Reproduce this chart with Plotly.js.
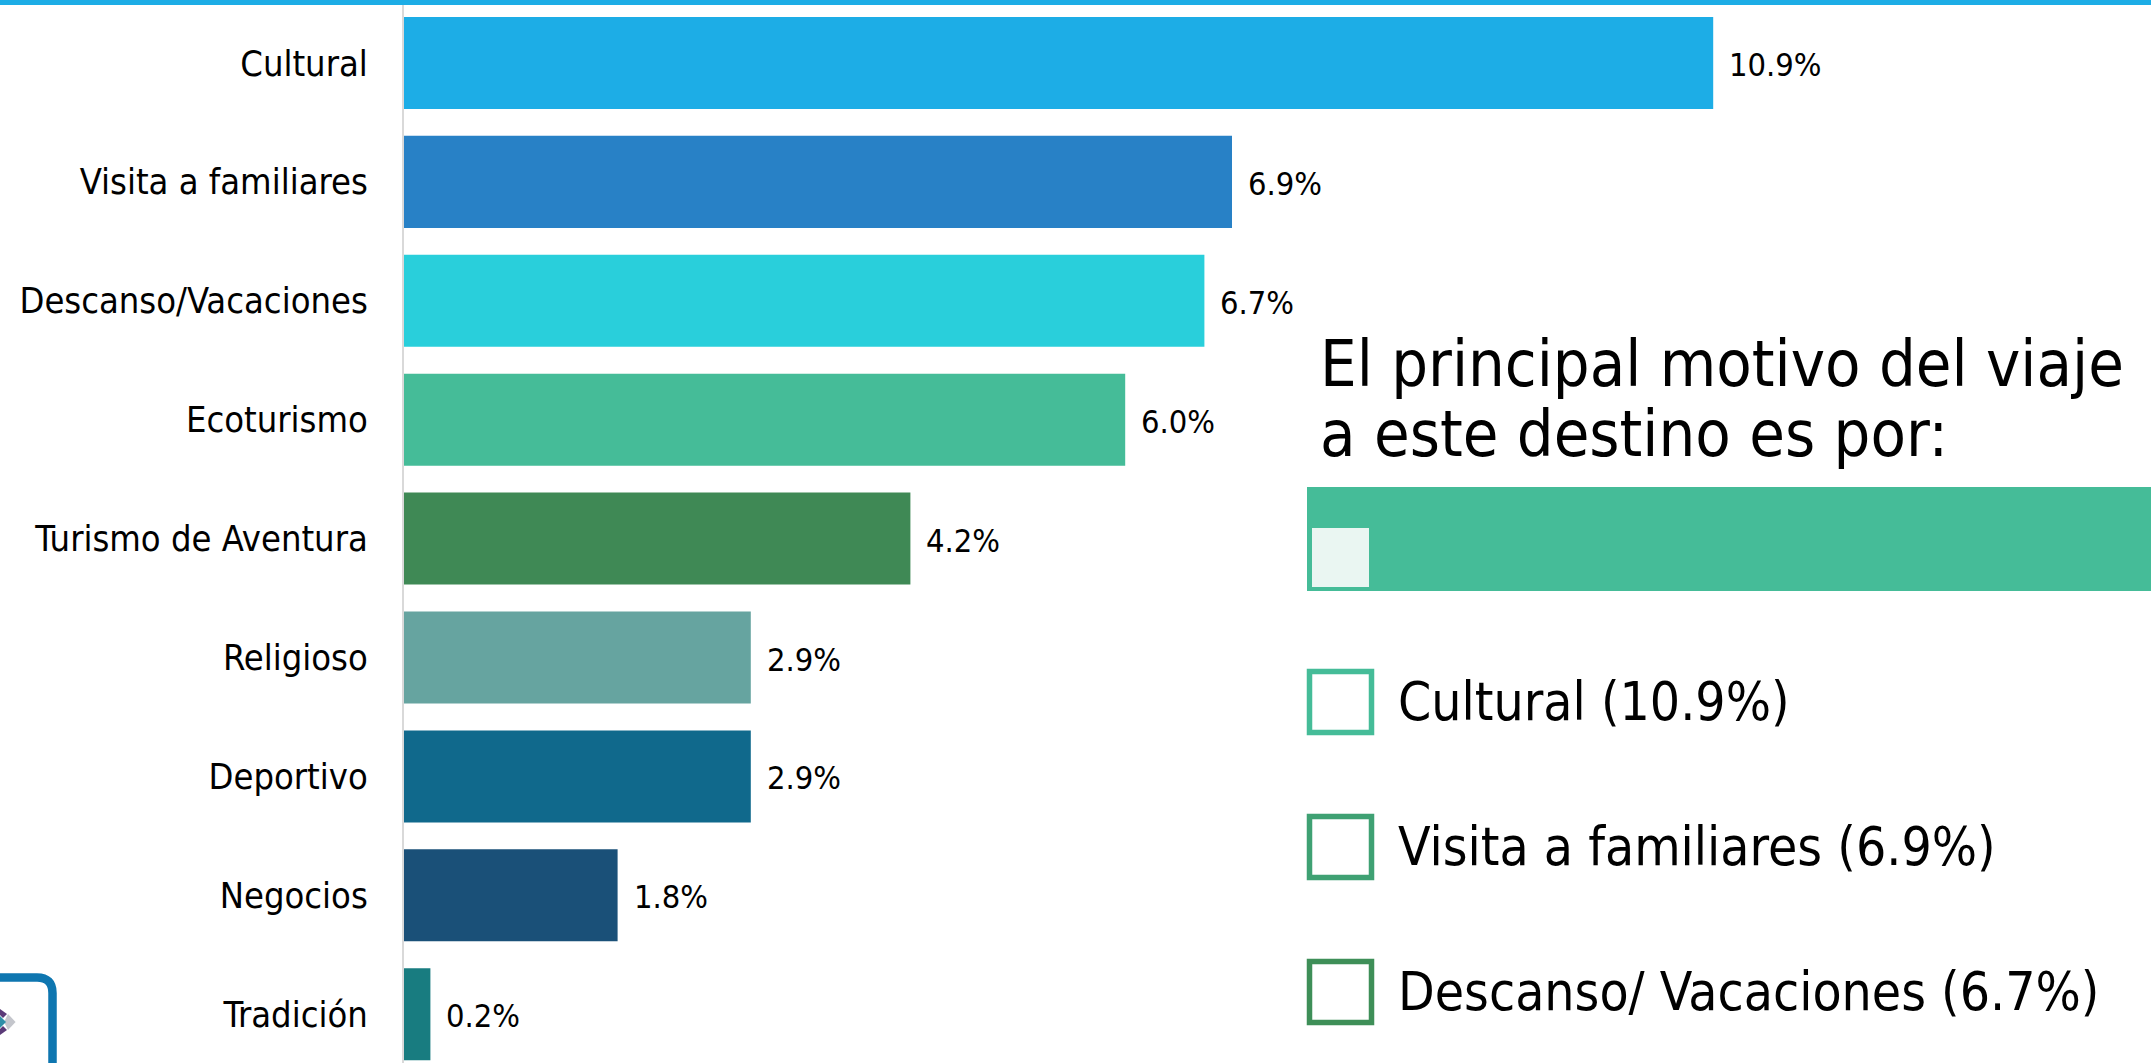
<!DOCTYPE html>
<html><head><meta charset="utf-8">
<script src="https://cdn.plot.ly/plotly-3.0.1.min.js"></script>
<style>html,body{margin:0;padding:0;background:#fff;overflow:hidden}</style>
</head><body><div id="chart" style="width:2151px;height:1063px"></div>
<script>
const categories = ['Cultural','Visita a familiares','Descanso/Vacaciones','Ecoturismo','Turismo de Aventura','Religioso','Deportivo','Negocios','Tradición'];
const values = [10.91,6.9,6.67,6.01,4.22,2.89,2.89,1.78,0.22];
const barColors = ['#1DADE6','#2881C6','#29CFDB','#45BC98','#3F8955','#66A4A0','#10698C','#1A5078','#187C80'];
const panelTitleLines = ['El principal motivo del viaje','a este destino es por:'];
const options = ['Cultural (10.9%)','Visita a familiares (6.9%)','Descanso/ Vacaciones (6.7%)'];
const optionColors = ['#45BC98','#3FA173','#3E8F58'];

const W=2151,H=1063,FONT='"DejaVu Sans Condensed","DejaVu Sans",sans-serif';
const px=x=>x/W, py=y=>1-y/H;
const poly=(pts,color)=>({type:'path',xref:'paper',yref:'paper',path:'M '+pts.map(p=>px(p[0])+' '+py(p[1])).join(' L ')+' Z',fillcolor:color,line:{width:0}});
const shapes=[
 {type:'rect',xref:'paper',yref:'paper',x0:0,x1:1,y0:py(5),y1:1,fillcolor:'#1DADE6',line:{width:0}},
 {type:'rect',xref:'paper',yref:'paper',x0:px(1307),x1:1,y0:py(591),y1:py(487),fillcolor:'#45BC98',line:{width:0}},
 {type:'rect',xref:'paper',yref:'paper',x0:px(1312),x1:px(1369),y0:py(587),y1:py(528),fillcolor:'#EAF6F2',line:{width:0}},
 {type:'path',xref:'paper',yref:'paper',path:`M ${px(-10)} ${py(977.5)} L ${px(37)} ${py(977.5)} Q ${px(52.5)} ${py(977.5)} ${px(52.5)} ${py(993)} L ${px(52.5)} ${py(1075)}`,line:{color:'#0E76B0',width:8.5}},
 poly([[8,1014],[15.6,1022],[8,1030],[4,1022]],'#C4C6CC'),
 poly([[0,1016],[6,1022],[0,1028]],'#2F8FA8'),
 poly([[0,1009],[7,1014],[3,1018],[0,1015]],'#5B3A78'),
 poly([[0,1035],[7,1030],[3,1026],[0,1029]],'#5B3A78'),
];
const ys=[669,814,959];
const textYs=[701,846,991];
const titleYs=[364,433];
const annotations=[];
panelTitleLines.forEach((t,i)=>annotations.push({xref:'paper',yref:'paper',x:px(1318),y:py(titleYs[i]),xanchor:'left',yanchor:'middle',align:'left',showarrow:false,text:t,font:{family:FONT,size:64.5,color:'#000'}}));
options.forEach((t,i)=>{
 shapes.push({type:'rect',xref:'paper',yref:'paper',x0:px(1309.5),x1:px(1371.5),y0:py(ys[i]+63.5),y1:py(ys[i]+2.5),fillcolor:'#fff',line:{color:optionColors[i],width:5.5}});
 annotations.push({xref:'paper',yref:'paper',x:px(1396),y:py(textYs[i]),xanchor:'left',yanchor:'middle',showarrow:false,text:t,font:{family:FONT,size:53,color:'#000'}});
});
values.forEach((v,i)=>annotations.push({xref:'x',yref:'y',x:v,y:categories[i],xanchor:'left',yanchor:'middle',xshift:14,yshift:-2,showarrow:false,text:v.toFixed(1)+'%',font:{family:FONT,size:32.4,color:'#000'}}));

Plotly.newPlot('chart',[{type:'bar',orientation:'h',y:categories,x:values,marker:{color:barColors,line:{width:0}},hoverinfo:'y+x'}],{
 width:W,height:H,margin:{l:0,r:0,t:0,b:0,pad:0},paper_bgcolor:'#fff',plot_bgcolor:'#fff',showlegend:false,bargap:0.226,
 xaxis:{domain:[404/W,1],range:[0,(W-404)/120],showgrid:false,zeroline:false,showticklabels:false,ticks:''},
 yaxis:{domain:[0,1-3.5/H],type:'category',range:[8.41,-0.5],showgrid:false,zeroline:false,showline:true,linecolor:'#D9D9D9',linewidth:2,ticks:'outside',ticklen:27,tickcolor:'rgba(0,0,0,0)',tickfont:{family:FONT,size:36,color:'#000'},automargin:false,anchor:'x',side:'left'},
 shapes,annotations
},{staticPlot:true,displayModeBar:false});
</script></body></html>
